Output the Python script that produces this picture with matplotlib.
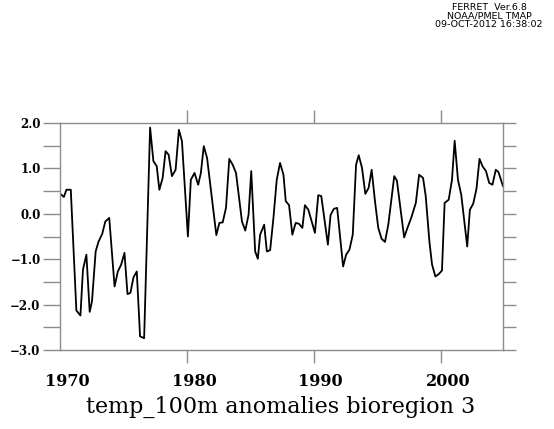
import numpy as np
import matplotlib
matplotlib.use('Agg')
import matplotlib.pyplot as plt
import matplotlib.transforms as mtransforms

# decimal year and anomaly values
years = [1970.12, 1970.30, 1970.51, 1970.85, 1971.29, 1971.61, 1971.81, 1972.08,
         1972.34, 1972.52, 1972.81, 1973.04, 1973.33, 1973.57, 1973.88, 1974.30,
         1974.56, 1974.82, 1975.08, 1975.32, 1975.55, 1975.79, 1976.05, 1976.31,
         1976.63, 1977.10, 1977.36, 1977.62, 1977.83, 1978.09, 1978.32, 1978.56,
         1978.82, 1979.11, 1979.37, 1979.61, 1980.08, 1980.31, 1980.60, 1980.89,
         1981.10, 1981.33, 1981.59, 1982.32, 1982.56, 1982.82, 1983.08, 1983.34,
         1983.61, 1983.87, 1984.34, 1984.60, 1984.86, 1985.07, 1985.38, 1985.59,
         1985.77, 1986.09, 1986.30, 1986.56, 1986.82, 1987.08, 1987.34, 1987.61,
         1987.79, 1988.05, 1988.31, 1988.57, 1988.83, 1989.10, 1989.30, 1989.57,
         1990.09, 1990.35, 1990.59, 1991.11, 1991.32, 1991.58, 1991.84, 1992.31,
         1992.55, 1992.81, 1993.07, 1993.33, 1993.54, 1993.80, 1994.06, 1994.32,
         1994.56, 1994.82, 1995.08, 1995.34, 1995.61, 1995.87, 1996.13, 1996.34,
         1996.55, 1997.12, 1997.38, 1997.69, 1998.04, 1998.30, 1998.61, 1998.82,
         1999.11, 1999.32, 1999.58, 1999.84, 2000.10, 2000.31, 2000.63, 2000.89,
         2001.10, 2001.36, 2001.62, 2002.09, 2002.30, 2002.56, 2002.82, 2003.06,
         2003.29, 2003.57, 2003.82, 2004.08, 2004.34, 2004.55, 2004.91]
anom = [0.42, 0.37, 0.53, 0.53, -2.13, -2.24, -1.23, -0.90,
        -2.16, -1.93, -0.83, -0.61, -0.44, -0.17, -0.09, -1.60,
        -1.27, -1.12, -0.86, -1.77, -1.74, -1.40, -1.27, -2.70,
        -2.74, 1.90, 1.16, 1.05, 0.53, 0.79, 1.38, 1.30,
        0.83, 0.97, 1.85, 1.60, -0.50, 0.75, 0.90, 0.64,
        0.90, 1.49, 1.23, -0.47, -0.20, -0.19, 0.13, 1.21,
        1.08, 0.90, -0.17, -0.37, -0.02, 0.94, -0.83, -0.99,
        -0.46, -0.24, -0.83, -0.80, -0.09, 0.75, 1.12, 0.86,
        0.28, 0.19, -0.46, -0.20, -0.22, -0.31, 0.19, 0.09,
        -0.42, 0.41, 0.39, -0.68, -0.03, 0.11, 0.13, -1.16,
        -0.90, -0.79, -0.46, 1.08, 1.29, 1.01, 0.44, 0.57,
        0.97, 0.28, -0.31, -0.55, -0.62, -0.24, 0.35, 0.83,
        0.73, -0.52, -0.31, -0.08, 0.24, 0.86, 0.79, 0.39,
        -0.61, -1.12, -1.38, -1.33, -1.25, 0.24, 0.31, 0.75,
        1.61, 0.75, 0.42, -0.72, 0.09, 0.22, 0.55, 1.21,
        1.05, 0.94, 0.68, 0.64, 0.97, 0.92, 0.61]

xticks = [1970, 1980, 1990, 2000]
ylabeled = [2.0, 1.0, 0.0, -1.0, -2.0, -3.0]
title = 'temp_100m anomalies bioregion 3'
header = 'FERRET  Ver.6.8\nNOAA/PMEL TMAP\n09-OCT-2012 16:38:02'

fig = plt.figure(figsize=(5.54, 4.29), dpi=100)
ax = fig.add_axes([60/554, 1-350/429, 443/554, 227/429])

ax.plot(years, anom, color='black', lw=1.3)
ax.set_xlim(years[0], years[-1])
ax.set_ylim(-3.0, 2.0)

frame = '#8c8c8c'
for s in ax.spines.values():
    s.set_color(frame)
    s.set_linewidth(1.0)

ax.set_xticks(xticks)
ax.set_xticklabels([str(t) for t in xticks], family='DejaVu Serif',
                   fontweight='bold', fontsize=11.5)
yt = np.arange(-3.0, 2.01, 0.5)
ax.set_yticks(yt)
ax.set_yticklabels([('%.1f' % v).replace('-', '\u2212') if round(v, 1) in ylabeled else ''
                    for v in yt], family='DejaVu Serif', fontweight='bold', fontsize=8.5)

ax.tick_params(axis='x', direction='out', length=9.5, width=1.0, color=frame,
               top=True, bottom=True, pad=7)
ax.tick_params(axis='y', direction='out', length=12, width=1.0,
               color=frame, left=True, right=True, pad=2)
for t in ax.yaxis.get_major_ticks():
    t.tick2line.set_markersize(9.5)
# the 1970 tick falls on the left frame, FERRET draws no tick mark there
first = ax.xaxis.get_major_ticks()[0]
first.tick1line.set_visible(False)
first.tick2line.set_visible(False)

# FERRET puts the year labels a little to the right of the tick
off = mtransforms.ScaledTranslation(7/100, 0, fig.dpi_scale_trans)
for lab in ax.get_xticklabels():
    lab.set_transform(lab.get_transform() + off)

fig.text(281/554, 1-407/429, title, ha='center', va='center',
         family='DejaVu Serif', fontsize=16)
fig.text(489/554, 1-3/429, header, ha='center', va='top',
         family='DejaVu Sans', fontsize=6.8, linespacing=0.9)

fig.savefig('out.png', dpi=100)
